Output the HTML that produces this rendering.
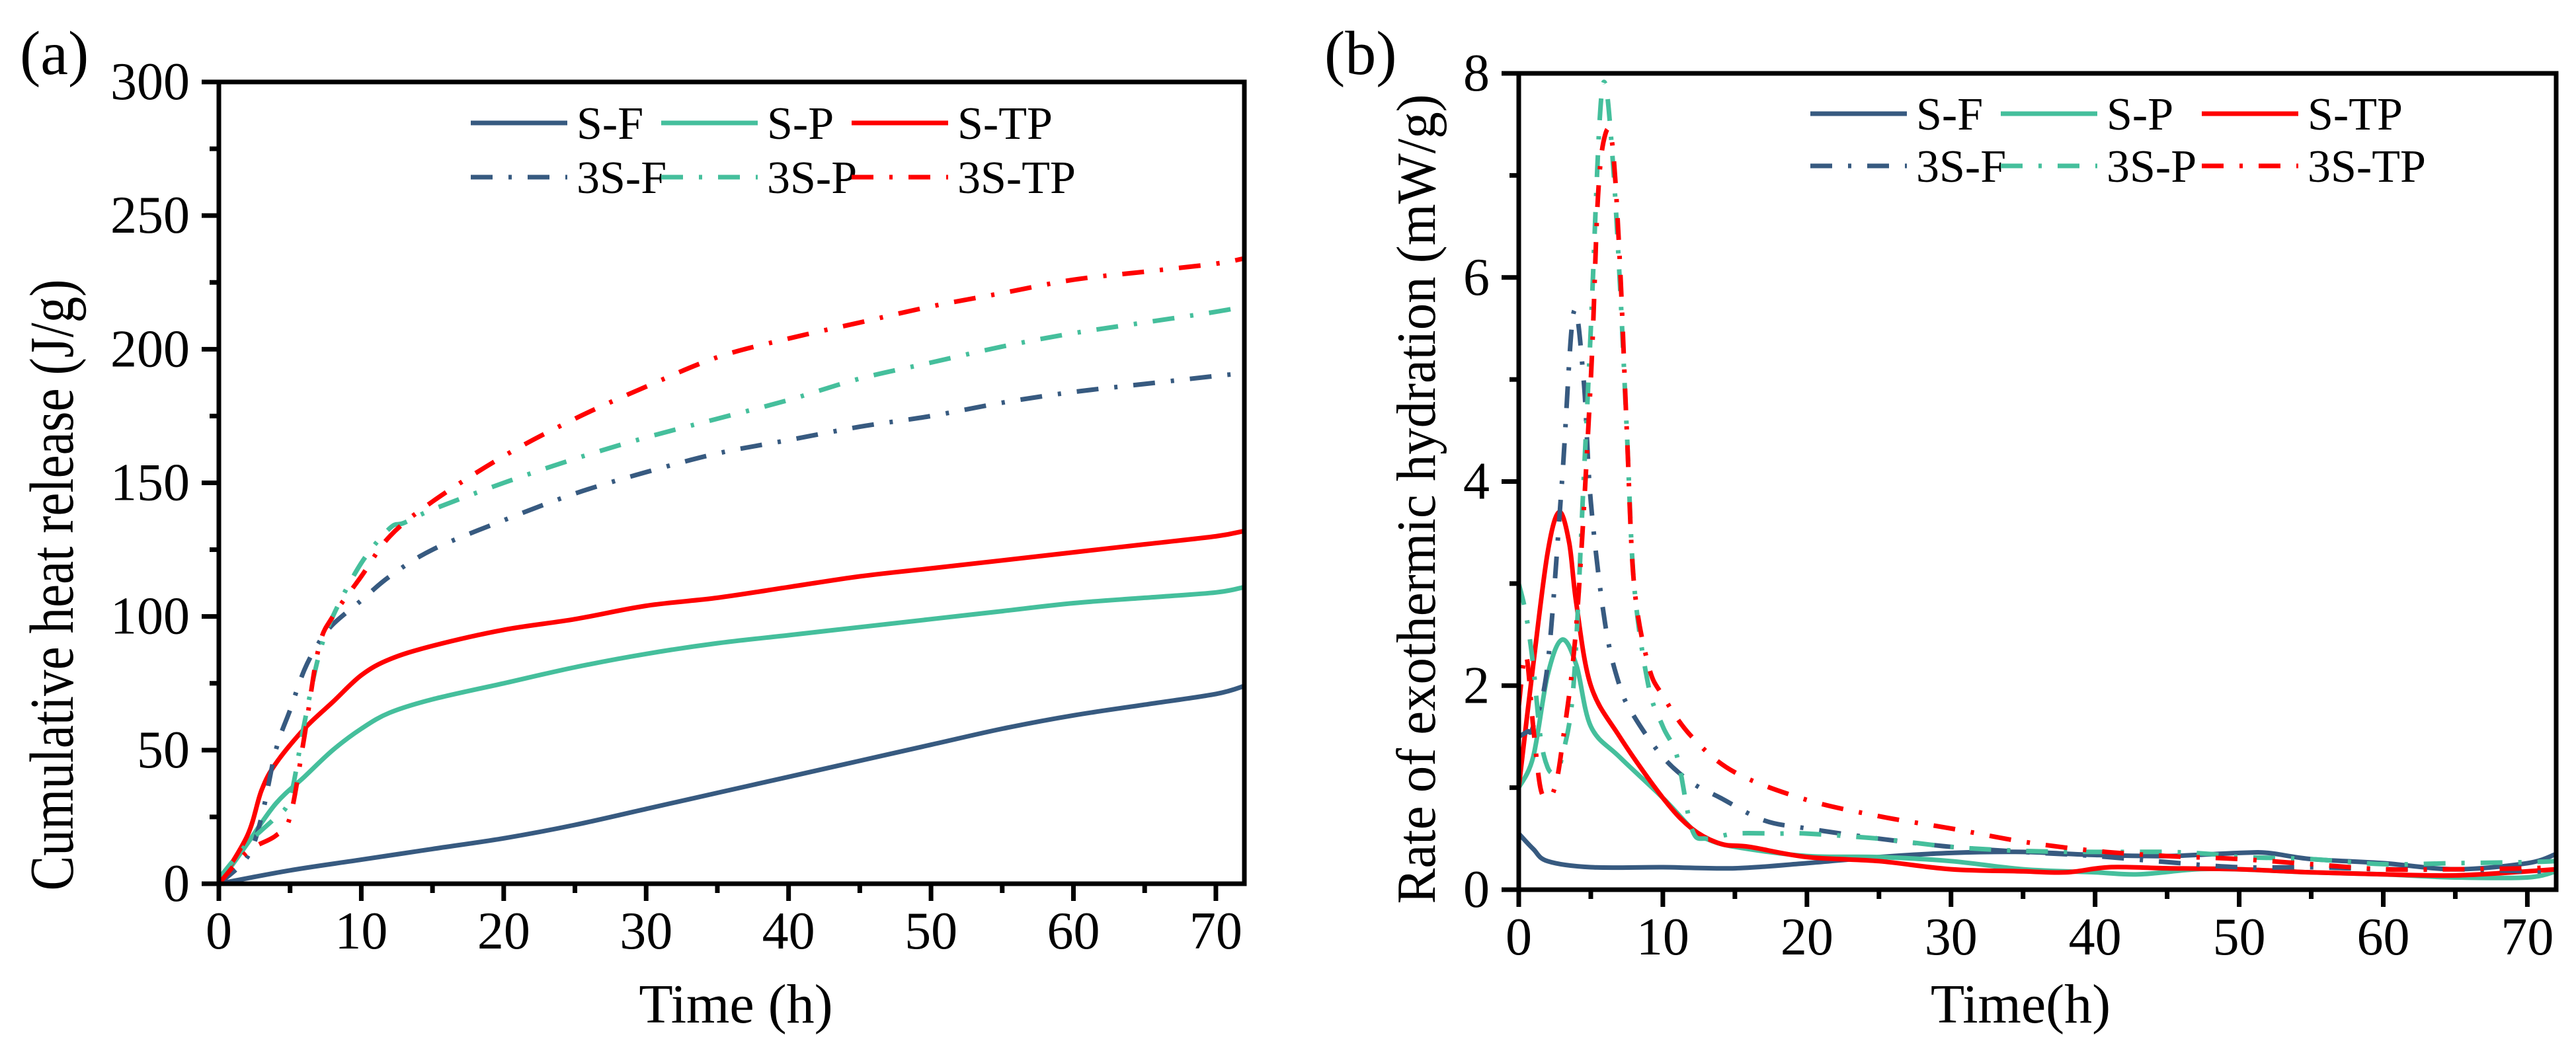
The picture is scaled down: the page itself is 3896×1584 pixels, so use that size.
<!DOCTYPE html>
<html><head><meta charset="utf-8">
<style>
html,body{margin:0;padding:0;background:#fff;}
svg text{font-family:"Liberation Serif","Times New Roman",serif;}
</style></head>
<body>
<svg id="fig" width="3896" height="1579" viewBox="0 0 3896 1579" xmlns="http://www.w3.org/2000/svg" font-family="Liberation Serif, serif">
<g id="pa"></g>
<g id="pb"></g>
</svg>
<script>
// ---- Panel (a) data: cumulative heat release (J/g) ----
const aSF_x=[0,5,10,15,20,25,30,35,40,45,50,55,60,65,70,72];
const aSF_y=[0,5,9,13,17,22,28,34,40,46,52,58,63,67,71,74];
const aSP_x=[0,2,4,6,8,10,12,15,20,25,30,35,40,45,50,55,60,65,70,72];
const aSP_y=[0,15,30,40,50,58,64,69,75,81,86,90,93,96,99,102,105,107,109,111];
const aSTP_x=[0,2,3,4,6,8,10,12,15,20,25,30,35,40,45,50,55,60,65,70,72];
const aSTP_y=[0,18,35,45,58,68,78,84,89,95,99,104,107,111,115,118,121,124,127,130,132];
const a3SF_x=[0,2,3,4,5,6,7,8,10,12,15,20,25,30,35,40,45,50,55,60,65,70,72];
const a3SF_y=[0,10,25,50,65,80,90,97,106,115,125,136,146,154,161,166,171,175,180,184,187,190,191];
const a3SP_x=[0,2,3,4,5,6,7,8,10,12,13,15,20,25,30,35,40,45,50,55,60,65,70,72];
const a3SP_y=[2,15,20,25,32,60,85,100,120,133,135,140,150,159,167,174,181,189,195,201,206,210,214,216];
const a3STP_x=[0,2,4,5,6,7,8,10,12,15,20,25,30,35,40,45,50,55,60,65,70,72];
const a3STP_y=[0,12,18,25,55,88,100,115,130,143,160,174,186,197,204,210,216,221,226,229,232,234];
const aXTicks=[0,10,20,30,40,50,60,70];
const aYTicks=[0,50,100,150,200,250,300];

// ---- Panel (b) data: rate of exothermic hydration (mW/g) ----
const bSF_x=[0,1,2,5,10,15,20,25,30,35,40,45,50,52,55,60,65,70,72];
const bSF_y=[0.55,0.4,0.28,0.22,0.22,0.21,0.26,0.32,0.36,0.37,0.34,0.33,0.36,0.36,0.3,0.26,0.2,0.26,0.35];
const bSP_x=[0,1,2,3,4,5,7,10,12,13,15,20,25,30,35,40,43,47,50,55,60,65,70,72];
const bSP_y=[1.0,1.3,2.1,2.45,2.2,1.6,1.3,0.9,0.6,0.5,0.42,0.33,0.32,0.28,0.2,0.17,0.15,0.2,0.2,0.17,0.15,0.12,0.12,0.18];
const bSTP_x=[0,1,2,2.8,3.5,4,5,7,10,12,14,16,20,25,30,35,38,41,45,50,55,60,65,70,72];
const bSTP_y=[1.0,2.2,3.3,3.7,3.4,2.8,2.0,1.5,0.9,0.6,0.45,0.42,0.32,0.28,0.2,0.18,0.17,0.22,0.21,0.2,0.17,0.15,0.14,0.18,0.2];
const b3SF_x=[0,0.6,1,2,3,3.8,4.5,5,6,7,8,10,12,14,17,20,25,30,35,40,45,50,55,60,65,70,72];
const b3SF_y=[1.5,1.55,1.6,2.2,4.0,5.65,5.0,3.8,2.6,2.0,1.7,1.3,1.05,0.9,0.68,0.6,0.5,0.42,0.37,0.33,0.27,0.22,0.22,0.2,0.2,0.18,0.18];
const b3SP_x=[0,0.5,1,1.5,2,2.5,3,3.8,4.5,5,5.6,6,6.5,7,7.5,8,9,10,11,12,13,15,18,20,25,30,35,40,45,48,50,55,60,65,70,72];
const b3SP_y=[3.0,2.7,2.2,1.5,1.2,1.15,1.3,2.0,4.0,5.5,7.5,7.9,7.2,6.0,4.5,3.0,2.0,1.6,1.3,0.6,0.5,0.55,0.55,0.55,0.5,0.42,0.38,0.37,0.37,0.35,0.32,0.3,0.25,0.26,0.27,0.28];
const b3STP_x=[0,0.5,1,1.5,2,2.5,3,4,5,5.5,6,6.5,7,7.5,8,9,10,12,15,20,25,30,35,40,45,50,55,60,65,70,72];
const b3STP_y=[1.8,2.3,1.6,1.0,0.9,1.0,1.4,2.6,5.0,6.8,7.4,7.3,6.2,4.5,3.0,2.2,1.9,1.5,1.15,0.88,0.72,0.6,0.47,0.38,0.33,0.3,0.25,0.2,0.2,0.21,0.22];
const bXTicks=[0,10,20,30,40,50,60,70];
const bYTicks=[0,2,4,6,8];

const NS="http://www.w3.org/2000/svg";
const NAVY="#375a80", TEAL="#45bf9c", RED="#ff0000";
const DASH="33 24 5 24";
const FONT="Liberation Serif, Times New Roman, serif";

function mk(tag,attrs,parent){
  const e=document.createElementNS(NS,tag);
  for(const k in attrs) e.setAttribute(k,attrs[k]);
  if(tag==="text") e.setAttribute("font-family",FONT);
  parent.appendChild(e);
  return e;
}
function pathFrom(xs,ys,sx,sy){
  const P=xs.map((x,i)=>[sx(x),sy(ys[i])]);
  let d="M"+P[0][0].toFixed(1)+","+P[0][1].toFixed(1);
  for(let i=0;i<P.length-1;i++){
    const p0=P[Math.max(0,i-1)],p1=P[i],p2=P[i+1],p3=P[Math.min(P.length-1,i+2)];
    const c1x=p1[0]+(p2[0]-p0[0])/6,c1y=p1[1]+(p2[1]-p0[1])/6;
    const c2x=p2[0]-(p3[0]-p1[0])/6,c2y=p2[1]-(p3[1]-p1[1])/6;
    d+=" C"+c1x.toFixed(1)+","+c1y.toFixed(1)+" "+c2x.toFixed(1)+","+c2y.toFixed(1)+" "+p2[0].toFixed(1)+","+p2[1].toFixed(1);
  }
  return d;
}

function panel(g,cfg){
  const {x0,x1,y0,y1,xmax,ymax,xt,yt,xminor,yminor}=cfg;
  const sx=v=>x0+(x1-x0)*v/xmax;
  const sy=v=>y0-(y0-y1)*v/ymax;
  const cp=mk("clipPath",{id:cfg.id+"clip"},g);
  mk("rect",{x:x0,y:y1,width:x1-x0,height:y0-y1},cp);
  const lines=mk("g",{"clip-path":"url(#"+cfg.id+"clip)"},g);
  
  
  cfg.series.forEach(s=>{
    const p=mk("path",{d:pathFrom(s.x,s.y,sx,sy),fill:"none",stroke:s.c,"stroke-width":7,"stroke-linejoin":"round"},lines);
    if(s.dash) p.setAttribute("stroke-dasharray",DASH);
    
    
  });
  const fr=mk("rect",{x:x0,y:y1,width:x1-x0,height:y0-y1,fill:"none",stroke:"#000","stroke-width":7},g);
  
  
  const xg=mk("g",{},g);
  
  
  xt.forEach(v=>{
    mk("line",{x1:sx(v),x2:sx(v),y1:y0,y2:y0+26,stroke:"#000","stroke-width":7},xg);
    const t=mk("text",{x:sx(v),y:y0+98,"font-size":80,"text-anchor":"middle"},xg);
    t.textContent=v;
    
    
  });
  xminor.forEach(v=>mk("line",{x1:sx(v),x2:sx(v),y1:y0,y2:y0+14,stroke:"#000","stroke-width":7},xg));
  const yg=mk("g",{},g);
  
  
  yt.forEach(v=>{
    mk("line",{x1:x0-26,x2:x0,y1:sy(v),y2:sy(v),stroke:"#000","stroke-width":7},yg);
    const t=mk("text",{x:x0-44,y:sy(v)+26,"font-size":80,"text-anchor":"end"},yg);
    t.textContent=v;
    
    
  });
  yminor.forEach(v=>mk("line",{x1:x0-14,x2:x0,y1:sy(v),y2:sy(v),stroke:"#000","stroke-width":7},yg));
  const xtl=mk("text",{x:cfg.xtx,y:1547,"font-size":84,"text-anchor":"middle"},g);
  xtl.textContent=cfg.xtitle;
  
  
  const ytl=mk("text",{x:0,y:0,"font-size":cfg.ytfs,"text-anchor":"middle",textLength:cfg.ytlen,lengthAdjust:"spacingAndGlyphs",transform:"translate("+cfg.ytx+","+cfg.yty+") rotate(-90)"},g);
  ytl.textContent=cfg.ytitle;
  
  
  const lab=mk("text",{x:cfg.labx,y:112,"font-size":94},g);
  lab.textContent=cfg.label;
  
  
  const lg=mk("g",{},g);
  
  
  cfg.series.forEach((s,i)=>{
    const col=i%3,row=Math.floor(i/3);
    const lx=cfg.legX[col],ly=cfg.legY[row];
    const e=mk("g",{},lg);
    
    
    const l=mk("line",{x1:lx,x2:lx+146,y1:ly,y2:ly,stroke:s.c,"stroke-width":7},e);
    if(s.dash) l.setAttribute("stroke-dasharray",DASH);
    const t=mk("text",{x:lx+160,y:ly+24,"font-size":70},e);
    t.textContent=s.n;
  });
}

panel(document.getElementById("pa"),{
  id:"a",x0:331,x1:1882,y0:1337,y1:124,xmax:72,ymax:300,xt:aXTicks,yt:aYTicks,
  xminor:[5,15,25,35,45,55,65],yminor:[25,75,125,175,225,275],
  xtitle:"Time (h)",xtx:1113,ytitle:"Cumulative heat release (J/g)",ytx:110,yty:885,ytfs:94,ytlen:925,
  label:"(a)",labx:30,legX:[712,1000,1288],legY:[186,268],
  series:[
    {n:"S-F",x:aSF_x,y:aSF_y,c:NAVY},
    {n:"S-P",x:aSP_x,y:aSP_y,c:TEAL},
    {n:"S-TP",x:aSTP_x,y:aSTP_y,c:RED},
    {n:"3S-F",x:a3SF_x,y:a3SF_y,c:NAVY,dash:1},
    {n:"3S-P",x:a3SP_x,y:a3SP_y,c:TEAL,dash:1},
    {n:"3S-TP",x:a3STP_x,y:a3STP_y,c:RED,dash:1}
  ]
});
panel(document.getElementById("pb"),{
  id:"b",x0:2297,x1:3866,y0:1346,y1:111,xmax:72,ymax:8,xt:bXTicks,yt:bYTicks,
  xminor:[5,15,25,35,45,55,65],yminor:[1,3,5,7],
  xtitle:"Time(h)",xtx:3056,ytitle:"Rate of exothermic hydration (mW/g)",ytx:2170,yty:755,ytfs:84,ytlen:1225,
  label:"(b)",labx:2003,legX:[2738,3026,3330],legY:[172,251],
  series:[
    {n:"S-F",x:bSF_x,y:bSF_y,c:NAVY},
    {n:"S-P",x:bSP_x,y:bSP_y,c:TEAL},
    {n:"S-TP",x:bSTP_x,y:bSTP_y,c:RED},
    {n:"3S-F",x:b3SF_x,y:b3SF_y,c:NAVY,dash:1},
    {n:"3S-P",x:b3SP_x,y:b3SP_y,c:TEAL,dash:1},
    {n:"3S-TP",x:b3STP_x,y:b3STP_y,c:RED,dash:1}
  ]
});
</script>
</body></html>
